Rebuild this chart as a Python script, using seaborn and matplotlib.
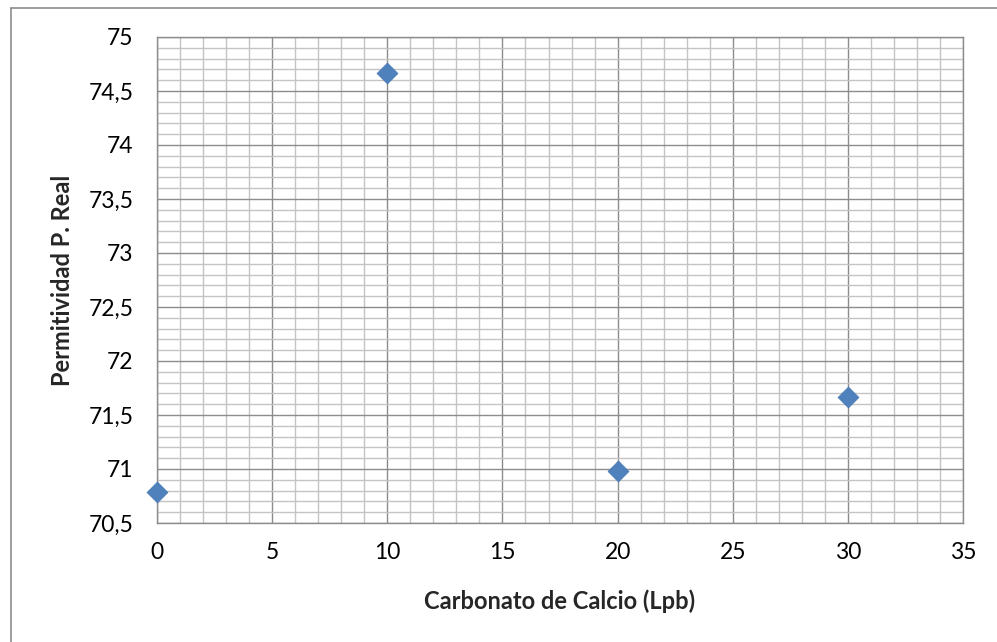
import matplotlib
matplotlib.use("Agg")
import matplotlib.pyplot as plt
from matplotlib.ticker import MultipleLocator, FuncFormatter
from matplotlib.lines import Line2D
import seaborn as sns
import pandas as pd

# Data
carbonato = [0, 10, 20, 30]
permitividad = [70.79, 74.67, 70.98, 71.67]

x_label = "Carbonato de Calcio (Lpb)"
y_label = "Permitividad P. Real"

sns.set_style("white")
plt.rcParams["font.family"] = ["Lato", "DejaVu Sans"]

df = pd.DataFrame({"x": carbonato, "y": permitividad})

fig = plt.figure(figsize=(9.97, 6.42), dpi=100)
ax = fig.add_axes([0.1575, 0.1854, 0.9659 - 0.1575, 0.9424 - 0.1854])

ax.set_xlim(0, 35)
ax.set_ylim(70.5, 75)
ax.xaxis.set_major_locator(MultipleLocator(5))
ax.xaxis.set_minor_locator(MultipleLocator(1))
ax.yaxis.set_major_locator(MultipleLocator(0.5))
ax.yaxis.set_minor_locator(MultipleLocator(0.1))

ax.grid(which="minor", color="#c4c4c4", linewidth=1.0, zorder=0)
ax.grid(which="major", color="#8c8c8c", linewidth=1.0, zorder=0)
ax.set_axisbelow(True)

sns.scatterplot(data=df, x="x", y="y", marker="D", s=112, color="#4f81bd",
                edgecolor="#4a7ab5", linewidth=0.6, ax=ax, zorder=5, clip_on=False)

def fmt(v, pos):
    s = f"{v:g}"
    return s.replace(".", ",")

ax.xaxis.set_major_formatter(FuncFormatter(fmt))
ax.yaxis.set_major_formatter(FuncFormatter(fmt))

ax.tick_params(axis="both", which="major", direction="out", length=6, width=1,
               color="#8c8c8c", labelsize=16.5, labelcolor="black")
ax.tick_params(axis="y", pad=11)
ax.tick_params(axis="x", pad=8)
ax.tick_params(axis="both", which="minor", length=0)

for sp in ax.spines.values():
    sp.set_color("#8c8c8c")
    sp.set_linewidth(1.0)

ax.set_xlabel(x_label, fontsize=17, fontweight="bold")
ax.set_ylabel(y_label, fontsize=17, fontweight="bold")
ax.xaxis.set_label_coords(0.5, -0.1375)
ax.yaxis.set_label_coords(-0.103, 0.5)

# Outer chart-area frame (left and top edges)
fig.add_artist(Line2D([11 / 997, 11 / 997], [0, 1 - 8 / 642], transform=fig.transFigure,
                      color="#8c8c8c", linewidth=1.2))
fig.add_artist(Line2D([11 / 997, 1], [1 - 8 / 642, 1 - 8 / 642], transform=fig.transFigure,
                      color="#8c8c8c", linewidth=1.2))

fig.savefig("out.png", dpi=100)
